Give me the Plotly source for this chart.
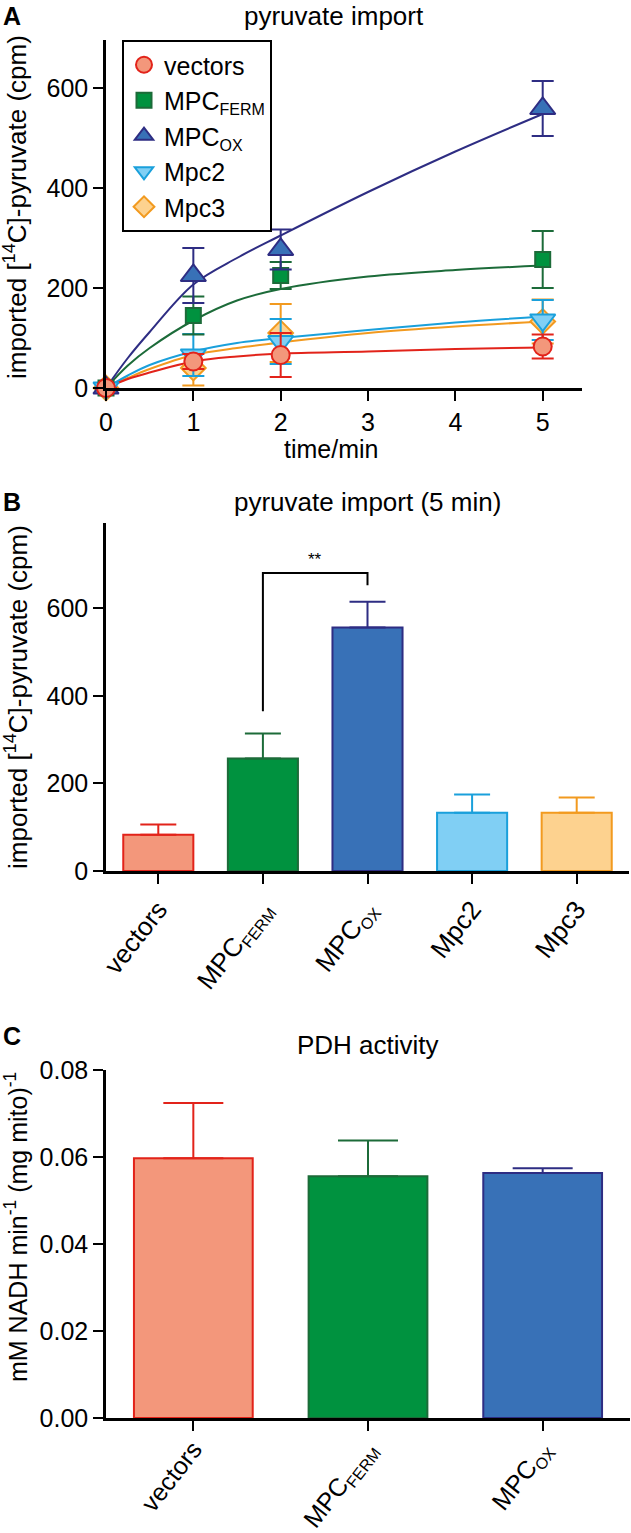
import plotly.graph_objects as go

# ---------------- data ----------------
SUB = "<sub><span style='font-size:16px'>{}</span></sub>"
series = ["vectors", "MPC" + SUB.format("FERM"), "MPC" + SUB.format("OX"), "Mpc2", "Mpc3"]
fill_colors = ["#F3977B", "#00923F", "#3871B7", "#80CFF4", "#FDD28F"]
line_colors = ["#E2231A", "#1C6B39", "#2E2D83", "#1AA0DB", "#F29A1F"]
symbols = ["circle", "square", "triangle-up", "triangle-down", "diamond"]
msizes = [18, 15, 22, 22, 19]

# Panel A: time course (means and SD)
time_pts = [0, 1, 2, 5]
vec_mean = [0, 53, 66, 83]
vec_err = [0, 15, 44, 24]
ferm_mean = [0, 145, 225, 257]
ferm_err = [0, 38, 27, 57]
ox_mean = [0, 225, 277, 559]
ox_err = [0, 55, 40, 55]
mpc2_mean = [0, 66, 93, 136]
mpc2_err = [0, 42, 45, 40]
mpc3_mean = [0, 40, 110, 133]
mpc3_err = [0, 35, 58, 44]

# Panel A: fitted curves
fit_t = [0, 0.25, 0.5, 1, 1.5, 2, 3, 4, 5]
vec_fit = [0, 18, 31, 53, 63, 69, 73, 78, 81]
ferm_fit = [0, 45, 80, 135, 175, 198, 223, 236, 245]
ox_fit = [0, 60, 112, 207, 260, 305, 392, 473, 548]
mpc2_fit = [0, 25, 46, 73, 90, 100, 116, 131, 143]
mpc3_fit = [0, 20, 38, 66, 80, 91, 110, 123, 133]

# Panel B: 5 min import
cats_b = ["vectors", "MPC" + SUB.format("FERM"), "MPC" + SUB.format("OX"), "Mpc2", "Mpc3"]
import5_mean = [83, 257, 556, 133, 133]
import5_err = [23, 57, 59, 42, 35]
sig_pair = [1, 2]
sig_levels = [365, 681, 653]  # left leg bottom, bracket top, right leg bottom
sig_text = "**"

# Panel C: PDH activity
cats_c = ["vectors", "MPC" + SUB.format("FERM"), "MPC" + SUB.format("OX")]
pdh_mean = [0.0597, 0.0556, 0.0563]
pdh_err = [0.0127, 0.0082, 0.0011]

FONT = "Liberation Sans, Arial, sans-serif"
W, H = 631, 1533


def px_x(p):
    return p / W


def px_y(p):
    return 1 - p / H


fig = go.Figure()

means = [vec_mean, ferm_mean, ox_mean, mpc2_mean, mpc3_mean]
errs = [vec_err, ferm_err, ox_err, mpc2_err, mpc3_err]
fits = [vec_fit, ferm_fit, ox_fit, mpc2_fit, mpc3_fit]

# fitted lines (under markers)
for i in [4, 3, 1, 2, 0]:
    fig.add_trace(go.Scatter(
        x=fit_t, y=fits[i], mode="lines", line=dict(color=line_colors[i], width=2, shape="spline"),
        showlegend=False, hoverinfo="skip", xaxis="x", yaxis="y", cliponaxis=False))

# markers with error bars; draw order so vectors on top
for i in [4, 3, 1, 2, 0]:
    fig.add_trace(go.Scatter(
        x=time_pts, y=means[i], mode="markers", name=series[i],
        marker=dict(symbol=symbols[i], size=msizes[i], color=fill_colors[i],
                    line=dict(color=line_colors[i], width=2)),
        error_y=dict(type="data", array=errs[i], color=line_colors[i], thickness=2, width=11),
        legendrank=i + 1, xaxis="x", yaxis="y", cliponaxis=False))

# Panel B bars
for i in range(5):
    fig.add_trace(go.Bar(
        x=[i], y=[import5_mean[i]], width=0.67,
        marker=dict(color=fill_colors[i], line=dict(color=line_colors[i], width=2)),
        error_y=dict(type="data", symmetric=False, array=[import5_err[i]], arrayminus=[0],
                     color=line_colors[i], thickness=2, width=18),
        showlegend=False, xaxis="x2", yaxis="y2"))

# Panel C bars
for i in range(3):
    fig.add_trace(go.Bar(
        x=[i], y=[pdh_mean[i]], width=0.68,
        marker=dict(color=fill_colors[i], line=dict(color=line_colors[i], width=2)),
        error_y=dict(type="data", symmetric=False, array=[pdh_err[i]], arrayminus=[0],
                     color=line_colors[i], thickness=2, width=30),
        showlegend=False, xaxis="x3", yaxis="y3"))

axis_common = dict(showline=True, linecolor="black", linewidth=2.5, ticks="outside",
                   ticklen=10, tickwidth=2, tickcolor="black", showgrid=False, zeroline=False,
                   automargin=False,
                   tickfont=dict(family=FONT, size=25, color="black"))
cat_font = dict(family=FONT, size=26, color="black")

fig.update_layout(
    width=W, height=H, margin=dict(l=0, r=0, t=0, b=0, pad=0, autoexpand=False),
    paper_bgcolor="white", plot_bgcolor="white", barmode="overlay",
    font=dict(family=FONT, size=25, color="black"),
    xaxis=dict(domain=[px_x(106), px_x(582)], range=[0, 5.45], tickvals=[0, 1, 2, 3, 4, 5],
               anchor="y", **axis_common),
    yaxis=dict(domain=[px_y(388), px_y(40)], range=[0, 696], tickvals=[0, 200, 400, 600],
               anchor="x", **axis_common),
    xaxis2=dict(domain=[px_x(106), px_x(629)], range=[-0.5, 4.5], tickvals=list(range(5)),
                ticktext=cats_b, tickangle=-52, anchor="y2", **axis_common),
    yaxis2=dict(domain=[px_y(871), px_y(523)], range=[0, 795], tickvals=[0, 200, 400, 600],
                anchor="x2", **axis_common),
    xaxis3=dict(domain=[px_x(106), px_x(630)], range=[-0.5, 2.5], tickvals=list(range(3)),
                ticktext=cats_c, tickangle=-52, anchor="y3", ticklabelstandoff=-6, **axis_common),
    yaxis3=dict(domain=[px_y(1418), px_y(1070)], range=[0, 0.08],
                tickvals=[0, 0.02, 0.04, 0.06, 0.08], tickformat=".2f", anchor="x3", **axis_common),
    legend=dict(x=px_x(122), y=px_y(40), xanchor="left", yanchor="top",
                bordercolor="black", borderwidth=2, bgcolor="white",
                font=dict(family=FONT, size=25, color="black"), tracegroupgap=0,
                itemwidth=30),
)
fig.update_xaxes(tickfont=cat_font, selector=dict(anchor="y2"))
fig.update_xaxes(tickfont=dict(family=FONT, size=25, color="black"), selector=dict(anchor="y3"))

# significance bracket in panel B
fig.add_shape(type="path", xref="x2", yref="y2",
              path=f"M {sig_pair[0]},{sig_levels[0]} L {sig_pair[0]},{sig_levels[1]} "
                   f"L {sig_pair[1]},{sig_levels[1]} L {sig_pair[1]},{sig_levels[2]}",
              line=dict(color="black", width=2))

ann = []
ann.append(dict(text=sig_text, xref="x2", yref="y2", x=(sig_pair[0] + sig_pair[1]) / 2,
                y=sig_levels[1] + 30, showarrow=False, font=dict(size=17)))
# panel letters
for letter, yp in [("A", 16), ("B", 502), ("C", 1036)]:
    ann.append(dict(text=f"<b>{letter}</b>", xref="paper", yref="paper", x=px_x(1), y=px_y(yp),
                    xanchor="left", yanchor="middle", showarrow=False, font=dict(size=25)))
# titles
for t, xp, yp in [("pyruvate import", 334, 16), ("pyruvate import (5 min)", 367, 502),
                  ("PDH activity", 368, 1045)]:
    ann.append(dict(text=t, xref="paper", yref="paper", x=px_x(xp), y=px_y(yp),
                    xanchor="center", yanchor="middle", showarrow=False, font=dict(size=26)))
# axis titles
ann.append(dict(text="time/min", xref="paper", yref="paper", x=px_x(331), y=px_y(449),
                xanchor="center", yanchor="middle", showarrow=False, font=dict(size=25)))
ylab = "imported [<sup>14</sup>C]-pyruvate (cpm)"
for yp in [207, 697]:
    ann.append(dict(text=ylab, xref="paper", yref="paper", x=px_x(16), y=px_y(yp),
                    xanchor="center", yanchor="middle", textangle=-90, showarrow=False,
                    font=dict(size=26)))
ann.append(dict(text="mM NADH min<sup>-1</sup> (mg mito)<sup>-1</sup>", xref="paper", yref="paper",
                x=px_x(16), y=px_y(1227), xanchor="center", yanchor="middle", textangle=-90,
                showarrow=False, font=dict(size=25)))
fig.update_layout(annotations=ann)

fig.write_html("out.html", config={"displayModeBar": False},
               post_script="document.body.style.margin='0px';document.body.style.padding='0px';"
                           "document.body.style.overflow='hidden';")
